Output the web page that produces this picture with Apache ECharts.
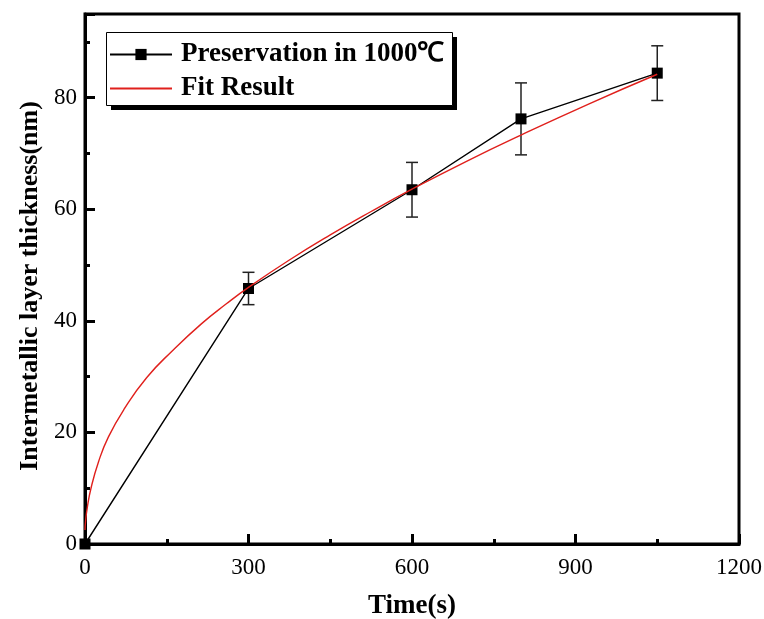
<!DOCTYPE html>
<html>
<head>
<meta charset="utf-8">
<script src="https://cdn.jsdelivr.net/npm/echarts@6/dist/echarts.min.js"></script>
<style>
  html, body { margin: 0; padding: 0; background: #fff; }
  #chart { width: 764px; height: 619px; }
</style>
</head>
<body>
<div id="chart"></div>
<script>
// Measured layer thickness at each holding time, with standard deviation
const holdTime = [0, 300, 600, 800, 1050];
const thickness = [0, 45.8, 63.5, 76.2, 84.4];
const thicknessErr = [0, 2.9, 4.9, 6.45, 4.9];

// Fitted growth curve (time, thickness)
const fitTime = [0, 1, 4, 11, 25, 43, 72, 113, 160, 214, 260, 300, 375, 450, 525, 600, 700, 800, 925, 1050];
const fitThickness = [2.5, 4, 6.4, 10, 14.8, 19.2, 24.2, 29.8, 34.6, 39.5, 43.1, 46, 50.9, 55.4, 59.6, 63.6, 68.6, 73.3, 78.9, 84.2];

// Axis ticks
const xTicks = [0, 300, 600, 900, 1200];
const yTicks = [0, 20, 40, 60, 80];

const seriesNames = ['Preservation in 1000\u2103', 'Fit Result'];

const serif = 'Liberation Serif, Times New Roman, serif';

const measured = holdTime.map((t, i) => [t, thickness[i]]);
const errorData = holdTime.map((t, i) => [t, thickness[i] - thicknessErr[i], thickness[i] + thicknessErr[i]]);
const fitData = fitTime.map((t, i) => [t, fitThickness[i]]);

const chart = echarts.init(document.getElementById('chart'), null, { renderer: 'canvas' });

// Legend frame: white box with a thin border and a solid drop shadow
const legendBox = { x: 106, y: 32, w: 346, h: 73, shadow: 5 };

chart.setOption({
  animation: false,
  backgroundColor: '#fff',
  grid: {
    left: 85, right: 25, top: 14, bottom: 75,
    outerBoundsMode: 'none',
    show: true, borderColor: '#000', borderWidth: 3
  },
  graphic: [
    {
      type: 'rect', z: 50, silent: true,
      shape: { x: legendBox.x + legendBox.shadow, y: legendBox.y + legendBox.shadow, width: legendBox.w, height: legendBox.h },
      style: { fill: '#000' }
    },
    {
      type: 'rect', z: 51, silent: true,
      shape: { x: legendBox.x + 0.5, y: legendBox.y + 0.5, width: legendBox.w, height: legendBox.h },
      style: { fill: '#fff', stroke: '#000', lineWidth: 1 }
    }
  ],
  legend: {
    z: 60,
    data: [
      { name: seriesNames[0] },
      { name: seriesNames[1], itemStyle: { opacity: 0 } }
    ],
    orient: 'vertical',
    left: 106, top: 38,
    itemWidth: 62, itemHeight: 14, itemGap: 7,
    padding: [3, 9, 5, 3],
    textStyle: { fontFamily: serif, fontWeight: 'bold', fontSize: 27, color: '#000', padding: [0, 0, 0, 4] }
  },
  xAxis: {
    type: 'value',
    min: 0, max: 1200, interval: 300,
    name: 'Time(s)',
    nameLocation: 'middle', nameGap: 49,
    nameTextStyle: { fontFamily: serif, fontWeight: 'bold', fontSize: 27, color: '#000' },
    axisLine: { show: true, onZero: false, lineStyle: { color: '#000', width: 3 } },
    axisTick: { show: true, inside: true, length: 10, lineStyle: { color: '#000', width: 3 } },
    minorTick: { show: true, splitNumber: 2, length: 5, lineStyle: { color: '#000', width: 3 } },
    axisLabel: {
      margin: 12, fontFamily: serif, fontSize: 23, color: '#000',
      formatter: v => (xTicks.indexOf(v) >= 0 ? String(v) : '')
    },
    splitLine: { show: false }
  },
  yAxis: {
    type: 'value',
    min: 0, max: 95, interval: 20,
    name: 'Intermetallic layer thickness(nm)',
    nameLocation: 'middle', nameGap: 41,
    nameTextStyle: { fontFamily: serif, fontWeight: 'bold', fontSize: 26, color: '#000', padding: [0, 14, 0, 0] },
    axisLine: { show: true, onZero: false, lineStyle: { color: '#000', width: 3 } },
    axisTick: { show: true, inside: true, length: 10, lineStyle: { color: '#000', width: 3 } },
    minorTick: { show: true, splitNumber: 2, length: 5, lineStyle: { color: '#000', width: 3 } },
    axisLabel: {
      margin: 8, fontFamily: serif, fontSize: 23, color: '#000',
      formatter: v => (yTicks.indexOf(v) >= 0 ? String(v) : '')
    },
    splitLine: { show: false }
  },
  series: [
    {
      name: seriesNames[0],
      type: 'line',
      data: measured,
      symbol: 'rect',
      symbolSize: 11,
      showAllSymbol: true,
      lineStyle: { color: '#000', width: 1.4 },
      itemStyle: { color: '#000' },
      z: 3
    },
    {
      name: 'error',
      type: 'custom',
      data: errorData,
      z: 2,
      renderItem: function (params, api) {
        const t = api.value(0);
        const lo = api.coord([t, api.value(1)]);
        const hi = api.coord([t, api.value(2)]);
        if (Math.abs(hi[1] - lo[1]) < 1) return null;
        const half = 6;
        const style = { stroke: '#222', lineWidth: 1.5 };
        return {
          type: 'group',
          children: [
            { type: 'line', shape: { x1: lo[0], y1: lo[1], x2: hi[0], y2: hi[1] }, style: style },
            { type: 'line', shape: { x1: lo[0] - half, y1: lo[1], x2: lo[0] + half, y2: lo[1] }, style: style },
            { type: 'line', shape: { x1: hi[0] - half, y1: hi[1], x2: hi[0] + half, y2: hi[1] }, style: style }
          ]
        };
      }
    },
    {
      name: seriesNames[1],
      type: 'line',
      data: fitData,
      symbol: 'none',
      smooth: 0.5,
      lineStyle: { color: '#e0201c', width: 1.4 },
      itemStyle: { color: '#e0201c' },
      z: 4
    }
  ]
});
</script>
</body>
</html>
